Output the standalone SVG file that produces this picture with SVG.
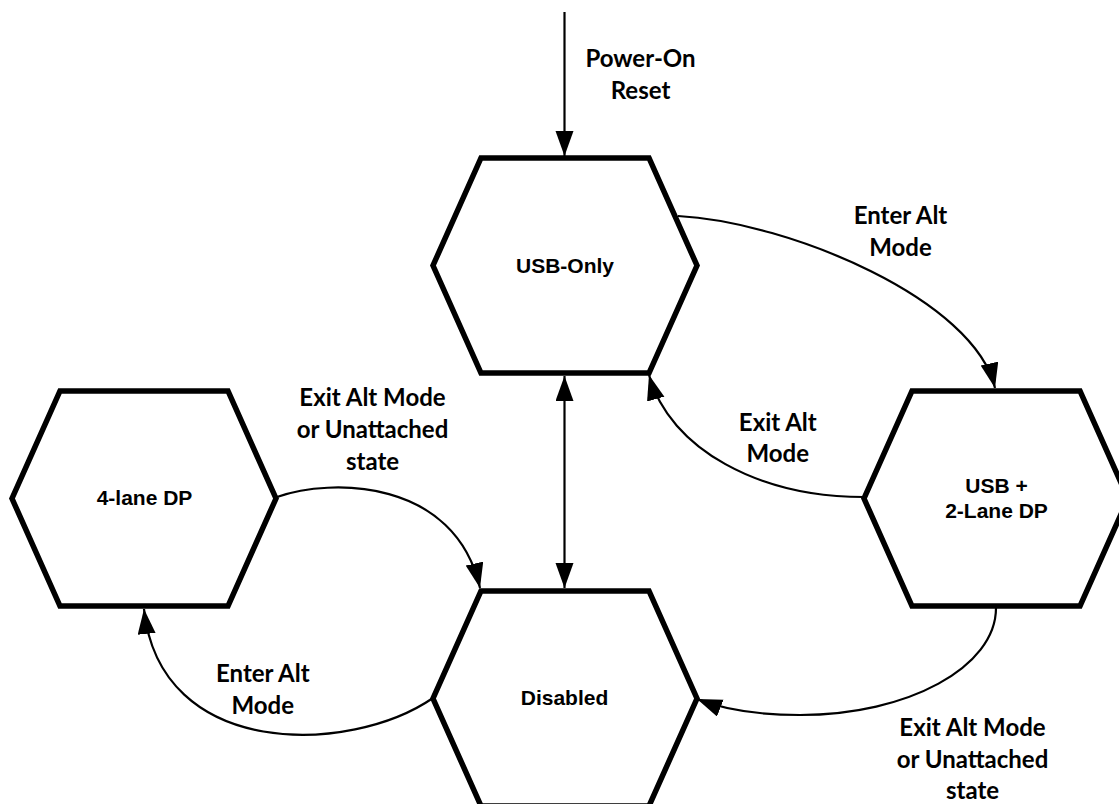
<svg xmlns="http://www.w3.org/2000/svg" width="1119" height="804" viewBox="0 0 1119 804">
<style>
.hex{fill:#fff;stroke:#000;stroke-width:5.5;stroke-linejoin:miter}
.nt{font-family:"Liberation Sans",Arial,sans-serif;font-weight:bold;font-size:21px;fill:#000;text-anchor:middle}
.et{font-family:Lato,"Open Sans",sans-serif;font-weight:bold;font-size:24px;fill:#000;text-anchor:middle}
.cn{fill:none;stroke:#000;stroke-width:2.2}
</style>
<defs>
<marker id="ah" markerUnits="userSpaceOnUse" markerWidth="26" markerHeight="20" refX="25" refY="9" orient="auto-start-reverse" viewBox="0 0 26 20">
<path d="M0,0 L25,9 L0,18 z" fill="#000"/>
</marker>
</defs>
<rect width="1119" height="804" fill="#fff"/>
<g id="connectors">
<path class="cn" d="M564.5,12 L564.5,156" marker-end="url(#ah)"/>
<path class="cn" d="M564.5,376 L564.5,588" marker-start="url(#ah)" marker-end="url(#ah)"/>
<path class="cn" d="M678,216 C790,222 975,300 995,388" marker-end="url(#ah)"/>
<path class="cn" d="M864,497 C760,497 670,450 649,375" marker-end="url(#ah)"/>
<path class="cn" d="M277,497 C330,478 455,478 480,588" marker-end="url(#ah)"/>
<path class="cn" d="M433,698 C350,755 160,760 144,609" marker-end="url(#ah)"/>
<path class="cn" d="M996,608 C996,667 908,715 800,715 C760,715 725,710 697,699" marker-end="url(#ah)"/>
</g>
<g id="labels">
<text class="et" x="640.5" y="67">Power-On</text>
<text class="et" x="640.5" y="99">Reset</text>
<text class="et" x="900.5" y="224">Enter Alt</text>
<text class="et" x="900.5" y="255.5">Mode</text>
<text class="et" x="777.8" y="430.5">Exit Alt</text>
<text class="et" x="777.8" y="462">Mode</text>
<text class="et" x="372.5" y="405.5">Exit Alt Mode</text>
<text class="et" x="372.5" y="438">or Unattached</text>
<text class="et" x="372.5" y="470">state</text>
<text class="et" x="262.8" y="681.5">Enter Alt</text>
<text class="et" x="262.8" y="714">Mode</text>
<text class="et" x="972.5" y="735.5">Exit Alt Mode</text>
<text class="et" x="972.5" y="767.5">or Unattached</text>
<text class="et" x="972.5" y="799">state</text>
</g>
<g id="usb-only">
<polygon class="hex" points="481,158 649,158 697,265.5 649,373 481,373 433,265.5"/>
<text class="nt" x="565" y="272.5">USB-Only</text>
</g>
<g id="four-lane-dp">
<polygon class="hex" points="60,391 228,391 276,498.5 228,606 60,606 12,498.5"/>
<text class="nt" x="144.5" y="505">4-lane DP</text>
</g>
<g id="usb-2lane-dp">
<polygon class="hex" points="912,391 1080,391 1128,498.5 1080,606 912,606 864,498.5"/>
<text class="nt" x="996.5" y="492.5">USB +</text>
<text class="nt" x="996.5" y="517.5">2-Lane DP</text>
</g>
<g id="disabled">
<polygon class="hex" points="481,591 649,591 697,698.5 649,806 481,806 433,698.5"/>
<text class="nt" x="564.5" y="705">Disabled</text>
</g>
</svg>
